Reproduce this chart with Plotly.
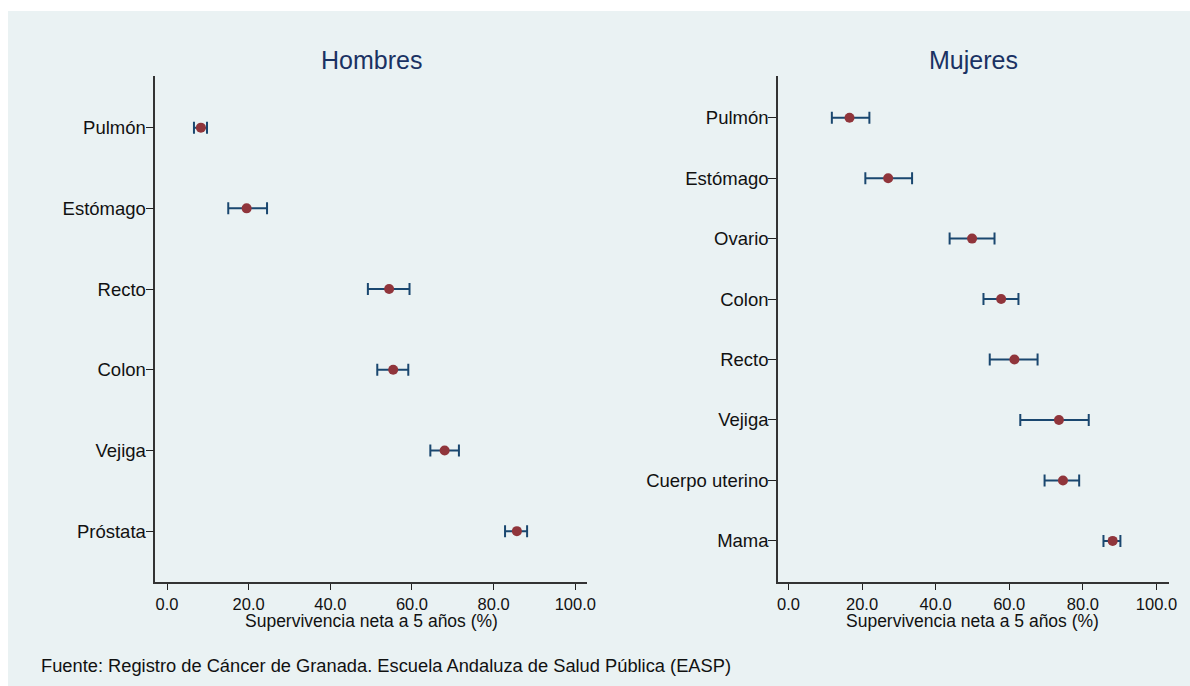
import plotly.graph_objects as go

# ---- data ----
hombres_cat = ["Pulmón", "Estómago", "Recto", "Colon", "Vejiga", "Próstata"]
hombres_val = [8.3, 19.5, 54.4, 55.4, 68.0, 85.7]
hombres_lo = [6.6, 15.0, 49.2, 51.5, 64.5, 82.8]
hombres_hi = [9.8, 24.5, 59.4, 59.1, 71.5, 88.2]

mujeres_cat = ["Pulmón", "Estómago", "Ovario", "Colon", "Recto", "Vejiga",
               "Cuerpo uterino", "Mama"]
mujeres_val = [16.6, 27.1, 49.9, 57.8, 61.4, 73.5, 74.6, 88.1]
mujeres_lo = [11.8, 20.9, 43.8, 53.0, 54.7, 63.0, 69.6, 85.6]
mujeres_hi = [22.0, 33.6, 56.0, 62.5, 67.7, 81.6, 79.0, 90.2]

x_ticks = [0, 20, 40, 60, 80, 100]
panel_titles = ["Hombres", "Mujeres"]
x_title = "Supervivencia neta a 5 años (%)"
footer = "Fuente: Registro de Cáncer de Granada. Escuela Andaluza de Salud Pública (EASP)"

REF_W, H = 1190, 686   # reference pixel grid used for placement
FIG_W = 1200           # rendered width (compensates the page's horizontal fit)
BG = "#EAF2F3"
NAVY = "#1A476F"
MAROON = "#90353B"
FONT = "Liberation Sans, Arial, sans-serif"


def px_x(p):
    return p / REF_W


def px_y(p):
    return 1 - p / H


fig = go.Figure()

panels = [
    (hombres_cat, hombres_val, hombres_lo, hombres_hi, "x", "y",
     (154.3, 585.7), [-2.87, 102.8]),
    (mujeres_cat, mujeres_val, mujeres_lo, mujeres_hi, "x2", "y2",
     (777.0, 1167.5), [-2.83, 103.27]),
]

plot_top, plot_bot = 76.0, 582.0

layout_axes = {}
annotations = []
for i, (cats, vals, lo, hi, xa, ya, (xl, xr), xrange_) in enumerate(panels):
    pos = list(range(1, len(cats) + 1))
    fig.add_trace(go.Scatter(
        x=vals, y=pos, mode="markers", xaxis=xa, yaxis=ya,
        marker=dict(color=MAROON, size=10, line=dict(width=0)),
        error_x=dict(type="data", symmetric=False,
                     array=[h - v for h, v in zip(hi, vals)],
                     arrayminus=[v - l for v, l in zip(vals, lo)],
                     color=NAVY, thickness=2, width=6),
        showlegend=False, hoverinfo="x+y",
    ))
    n = len(cats)
    ext_top = 0.64 if n == 6 else 0.69
    ext_bot = 0.63 if n == 6 else 0.68
    xkey = "xaxis" if i == 0 else "xaxis2"
    ykey = "yaxis" if i == 0 else "yaxis2"
    layout_axes[xkey] = dict(
        domain=[px_x(xl), px_x(xr)], anchor=ya, range=xrange_,
        tickvals=x_ticks, tickformat=".1f", ticks="outside", ticklen=6,
        tickwidth=1.3, tickcolor="#222", showline=True, linecolor="#333",
        linewidth=1.5, showgrid=False, zeroline=False,
        tickfont=dict(family=FONT, size=16.5, color="#111"),
    )
    layout_axes[ykey] = dict(
        domain=[px_y(plot_bot), px_y(plot_top)], anchor=xa,
        range=[n + ext_bot, 1 - ext_top], tickvals=pos, ticktext=cats,
        ticks="outside", ticklen=8, tickwidth=1.3, tickcolor="#222",
        ticklabelstandoff=-4,
        showline=True, linecolor="#333", linewidth=1.5,
        showgrid=True, gridcolor=BG, gridwidth=1.5, zeroline=False,
        tickfont=dict(family=FONT, size=18.5, color="#111"),
    )
    xc = (xl + xr) / 2
    annotations.append(dict(
        text=panel_titles[i], x=px_x(xc), y=px_y(60), xref="paper",
        yref="paper", xanchor="center", yanchor="middle", showarrow=False,
        font=dict(family=FONT, size=25, color="#1A3263"),
    ))
    x0 = xl + (0 - xrange_[0]) / (xrange_[1] - xrange_[0]) * (xr - xl)
    x100 = xl + (100 - xrange_[0]) / (xrange_[1] - xrange_[0]) * (xr - xl)
    annotations.append(dict(
        text=x_title, x=px_x((x0 + x100) / 2), y=px_y(621), xref="paper",
        yref="paper", xanchor="center", yanchor="middle", showarrow=False,
        font=dict(family=FONT, size=17.5, color="#111"),
    ))

annotations.append(dict(
    text=footer, x=px_x(38), y=px_y(665), xref="paper", yref="paper",
    xanchor="left", yanchor="middle", showarrow=False,
    font=dict(family=FONT, size=18.3, color="#111"),
))

fig.update_layout(
    width=FIG_W, height=H, autosize=False, margin=dict(l=0, r=0, t=0, b=0),
    paper_bgcolor="white", plot_bgcolor="white",
    annotations=annotations,
    shapes=[dict(type="rect", xref="paper", yref="paper",
                 x0=px_x(7), x1=1, y0=0, y1=px_y(11),
                 fillcolor=BG, line=dict(width=0), layer="below")],
    **layout_axes,
)

fig.write_html(
    "out.html",
    config={"responsive": False, "displayModeBar": False},
    post_script="document.body.style.margin='0';document.body.style.overflow='hidden';",
)
